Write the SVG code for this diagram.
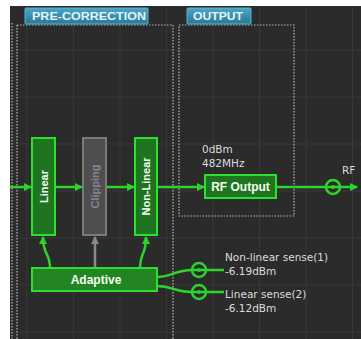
<svg xmlns="http://www.w3.org/2000/svg" width="361" height="339" viewBox="0 0 361 339">
<style>
.grid{stroke:#383838;stroke-width:1}
.dot{fill:none;stroke:#b8b8b8;stroke-width:1.2;stroke-dasharray:1.5 1.5}
.tab{fill:url(#tabg);stroke:#5ab4d4;stroke-width:1}
.tabt{font-family:"Liberation Sans",Arial,sans-serif;font-weight:bold;font-size:11px;fill:#e4f4fa}
.blk{fill:#1f741f;stroke:#2ee02e;stroke-width:2}
.gblk{fill:#4e4e4e;stroke:#7a7a7a;stroke-width:2}
.bt{font-family:"Liberation Sans",Arial,sans-serif;font-weight:bold;font-size:11px;fill:#f2fff2;text-anchor:middle}
.bt12{font-family:"Liberation Sans",Arial,sans-serif;font-weight:bold;font-size:12px;fill:#f2fff2;text-anchor:middle}
.lbl{font-family:"DejaVu Sans",Verdana,sans-serif;font-size:10.5px;fill:#dcdcdc}
.wire{fill:none;stroke:#2ed42e;stroke-width:2.5}
.gwire{fill:none;stroke:#8a8a8a;stroke-width:2.5}
.port{fill:none;stroke:#2ed42e;stroke-width:2.5}
.pdot{fill:#2ed42e}
</style>
<defs>
<linearGradient id="tabg" x1="0" y1="0" x2="0" y2="1">
<stop offset="0" stop-color="#4aa6c8"/>
<stop offset="1" stop-color="#2a7896"/>
</linearGradient>
<marker id="ah" viewBox="0 0 8 8" refX="7" refY="4" markerWidth="8" markerHeight="8" markerUnits="userSpaceOnUse" orient="auto">
<path d="M0,0 L8,4 L0,8 z" fill="#2ed42e"/>
</marker>
<marker id="ahg" viewBox="0 0 8 8" refX="7" refY="4" markerWidth="8" markerHeight="8" markerUnits="userSpaceOnUse" orient="auto">
<path d="M0,0 L8,4 L0,8 z" fill="#8a8a8a"/>
</marker>
</defs>
<rect x="0" y="0" width="361" height="339" fill="#ffffff"/>
<rect x="10" y="6" width="351" height="333" fill="#2b2b2b"/>
<g id="grid">
<path class="grid" d="M27,6V339 M73.5,6V339 M120,6V339 M166.5,6V339 M213,6V339 M259.5,6V339 M306,6V339 M352.5,6V339 M10,50H361 M10,97H361 M10,144H361 M10,191H361 M10,238H361 M10,285H361 M10,332H361"/>
</g>
<g id="groups">
<path class="dot" d="M12,23V339"/>
<path class="dot" d="M17,25V339 M17,25H173 M173,25V339"/>
<rect class="dot" x="179" y="25" width="115" height="191"/>
<g id="tab-pre">
<rect class="tab" x="25" y="8" width="123" height="16" rx="1"/>
<text class="tabt" x="32" y="20" textLength="114" lengthAdjust="spacingAndGlyphs">PRE-CORRECTION</text>
</g>
<g id="tab-out">
<rect class="tab" x="187" y="8" width="64" height="16" rx="1"/>
<text class="tabt" x="193" y="20" textLength="50" lengthAdjust="spacingAndGlyphs">OUTPUT</text>
</g>
</g>
<g id="connectors">
<path class="wire" d="M10,187H31" marker-end="url(#ah)"/>
<path class="wire" d="M55,187H82" marker-end="url(#ah)"/>
<path class="wire" d="M106,187H134" marker-end="url(#ah)"/>
<path class="wire" d="M157,187H204" marker-end="url(#ah)"/>
<path class="wire" d="M276,187H357" marker-end="url(#ah)"/>
<path class="wire" d="M50,268C50,252 43,256 43,237" marker-end="url(#ah)"/>
<path class="wire" d="M140,268C140,252 146,256 146,237" marker-end="url(#ah)"/>
<path class="gwire" d="M95,268V237" marker-end="url(#ahg)"/>
<path class="wire" d="M157,277C172,277 175,270 192,270H224"/>
<path class="wire" d="M157,286C172,286 175,292 192,292H224"/>
</g>
<g id="linear">
<rect class="blk" x="32" y="138" width="23" height="97"/>
<text class="bt" transform="translate(47.5,186.5) rotate(-90)">Linear</text>
</g>
<g id="clipping">
<rect class="gblk" x="83" y="138" width="23" height="97"/>
<text class="bt" style="fill:#8a8296" transform="translate(98.5,186.5) rotate(-90)">Clipping</text>
</g>
<g id="nonlinear">
<rect class="blk" x="135" y="138" width="22" height="97"/>
<text class="bt" transform="translate(150,186.5) rotate(-90)">Non-Linear</text>
</g>
<g id="rfoutput">
<rect class="blk" x="205" y="175" width="71" height="23"/>
<text class="bt12" x="240.5" y="191">RF Output</text>
<text class="lbl" x="202" y="153">0dBm</text>
<text class="lbl" x="202" y="167">482MHz</text>
</g>
<g id="adaptive">
<rect class="blk" style="fill:#238423" x="32" y="268" width="125" height="23"/>
<text class="bt12" x="96" y="284">Adaptive</text>
</g>
<g id="port-rf">
<circle class="port" cx="333" cy="187" r="7"/>
<circle class="pdot" cx="333" cy="187" r="2"/>
<text class="lbl" x="342" y="174">RF</text>
</g>
<g id="port-nl">
<circle class="port" cx="199" cy="270" r="7"/>
<circle class="pdot" cx="199" cy="270" r="2"/>
<text class="lbl" x="225" y="261">Non-linear sense(1)</text>
<text class="lbl" x="225" y="275">-6.19dBm</text>
</g>
<g id="port-lin">
<circle class="port" cx="199" cy="292" r="7"/>
<circle class="pdot" cx="199" cy="292" r="2"/>
<text class="lbl" x="225" y="298">Linear sense(2)</text>
<text class="lbl" x="225" y="312">-6.12dBm</text>
</g>
</svg>
